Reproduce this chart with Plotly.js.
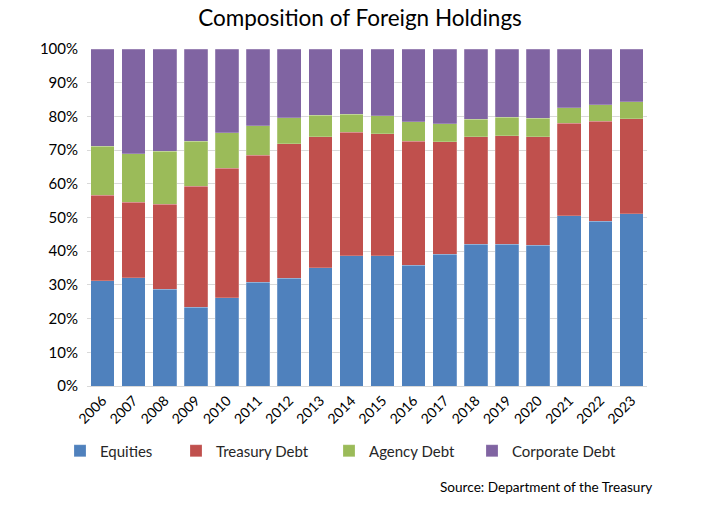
<!DOCTYPE html>
<html><head><meta charset="utf-8">
<script src="https://cdn.plot.ly/plotly-3.0.1.min.js"></script>
<style>body{margin:0;background:#fff}#c{width:720px;height:513px}</style>
</head><body><div id="c"></div>
<script>
const years = ['2006','2007','2008','2009','2010','2011','2012','2013','2014','2015','2016','2017','2018','2019','2020','2021','2022','2023'];
const equities = [31.2,32.1,28.7,23.3,26.2,30.8,32.0,35.1,38.7,38.7,35.9,39.1,42.0,42.0,41.7,50.5,48.9,51.1];
const treasury = [25.4,22.4,25.2,36.0,38.4,37.7,39.9,38.9,36.6,36.1,36.8,33.4,31.9,32.3,32.2,27.5,29.6,28.2];
const agency = [14.6,14.4,15.8,13.4,10.6,8.8,7.7,6.3,5.4,5.4,5.7,5.3,5.3,5.5,5.5,4.6,5.0,5.0];
const corporate = [28.8,31.1,30.3,27.3,24.8,22.7,20.4,19.7,19.3,19.8,21.6,22.2,20.8,20.2,20.6,17.4,16.5,15.7];
const seriesNames = ['Equities','Treasury Debt','Agency Debt','Corporate Debt'];
const colors = ['#4f81bd','#c0504d','#9bbb59','#8064a2'];
const values = [equities, treasury, agency, corporate];
const legendIds = ['legend','legend2','legend3','legend4'];

const traces = values.map((v,i)=>({
  type:'bar', x:years, y:v, name:seriesNames[i], legend:legendIds[i], showlegend:true,
  marker:{color:colors[i], line:{color:'rgba(255,255,255,0.35)', width:0.6}},
  hoverinfo:'x+y+name'
}));

const font = 'Lato, "Open Sans", "Liberation Sans", sans-serif';
const legendBase = {orientation:'h', xref:'container', yref:'container', yanchor:'middle', y:(513-451)/513, xanchor:'left', font:{family:font,size:15,color:'#262626'}, bgcolor:'rgba(0,0,0,0)', itemwidth:30};
const layout = {
  width:720, height:513,
  showlegend:true,
  margin:{l:87, r:73, t:49, b:127},
  paper_bgcolor:'#fff', plot_bgcolor:'#fff',
  barmode:'stack', bargap:0.24,
  font:{family:font, size:14, color:'#000'},
  title:{text:'Composition of Foreign Holdings', x:0.5, xanchor:'center', y:0.965, yanchor:'middle', font:{family:font,size:22.5,color:'#000'}},
  xaxis:{type:'category', tickangle:-45, showgrid:false, showline:true, linecolor:'#d9d9d9', linewidth:1, ticks:'', tickfont:{family:font,size:14,color:'#000'}, fixedrange:true},
  yaxis:{range:[0,100], dtick:10, ticksuffix:'%', showgrid:true, gridcolor:'#d9d9d9', gridwidth:1, zeroline:false, showline:false, ticks:'', ticklabelstandoff:8, tickfont:{family:font,size:15,color:'#000'}, fixedrange:true},
  legend:Object.assign({}, legendBase, {x:60/720}),
  legend2:Object.assign({}, legendBase, {x:176/720}),
  legend3:Object.assign({}, legendBase, {x:329/720}),
  legend4:Object.assign({}, legendBase, {x:472/720}),
  annotations:[{text:'Source: Department of the Treasury', xref:'paper', yref:'paper', x:1.013, y:-0.3, xanchor:'right', yanchor:'middle', showarrow:false, font:{family:font,size:13.6,color:'#000'}}]
};
Plotly.newPlot('c', traces, layout, {displayModeBar:false});
</script></body></html>
